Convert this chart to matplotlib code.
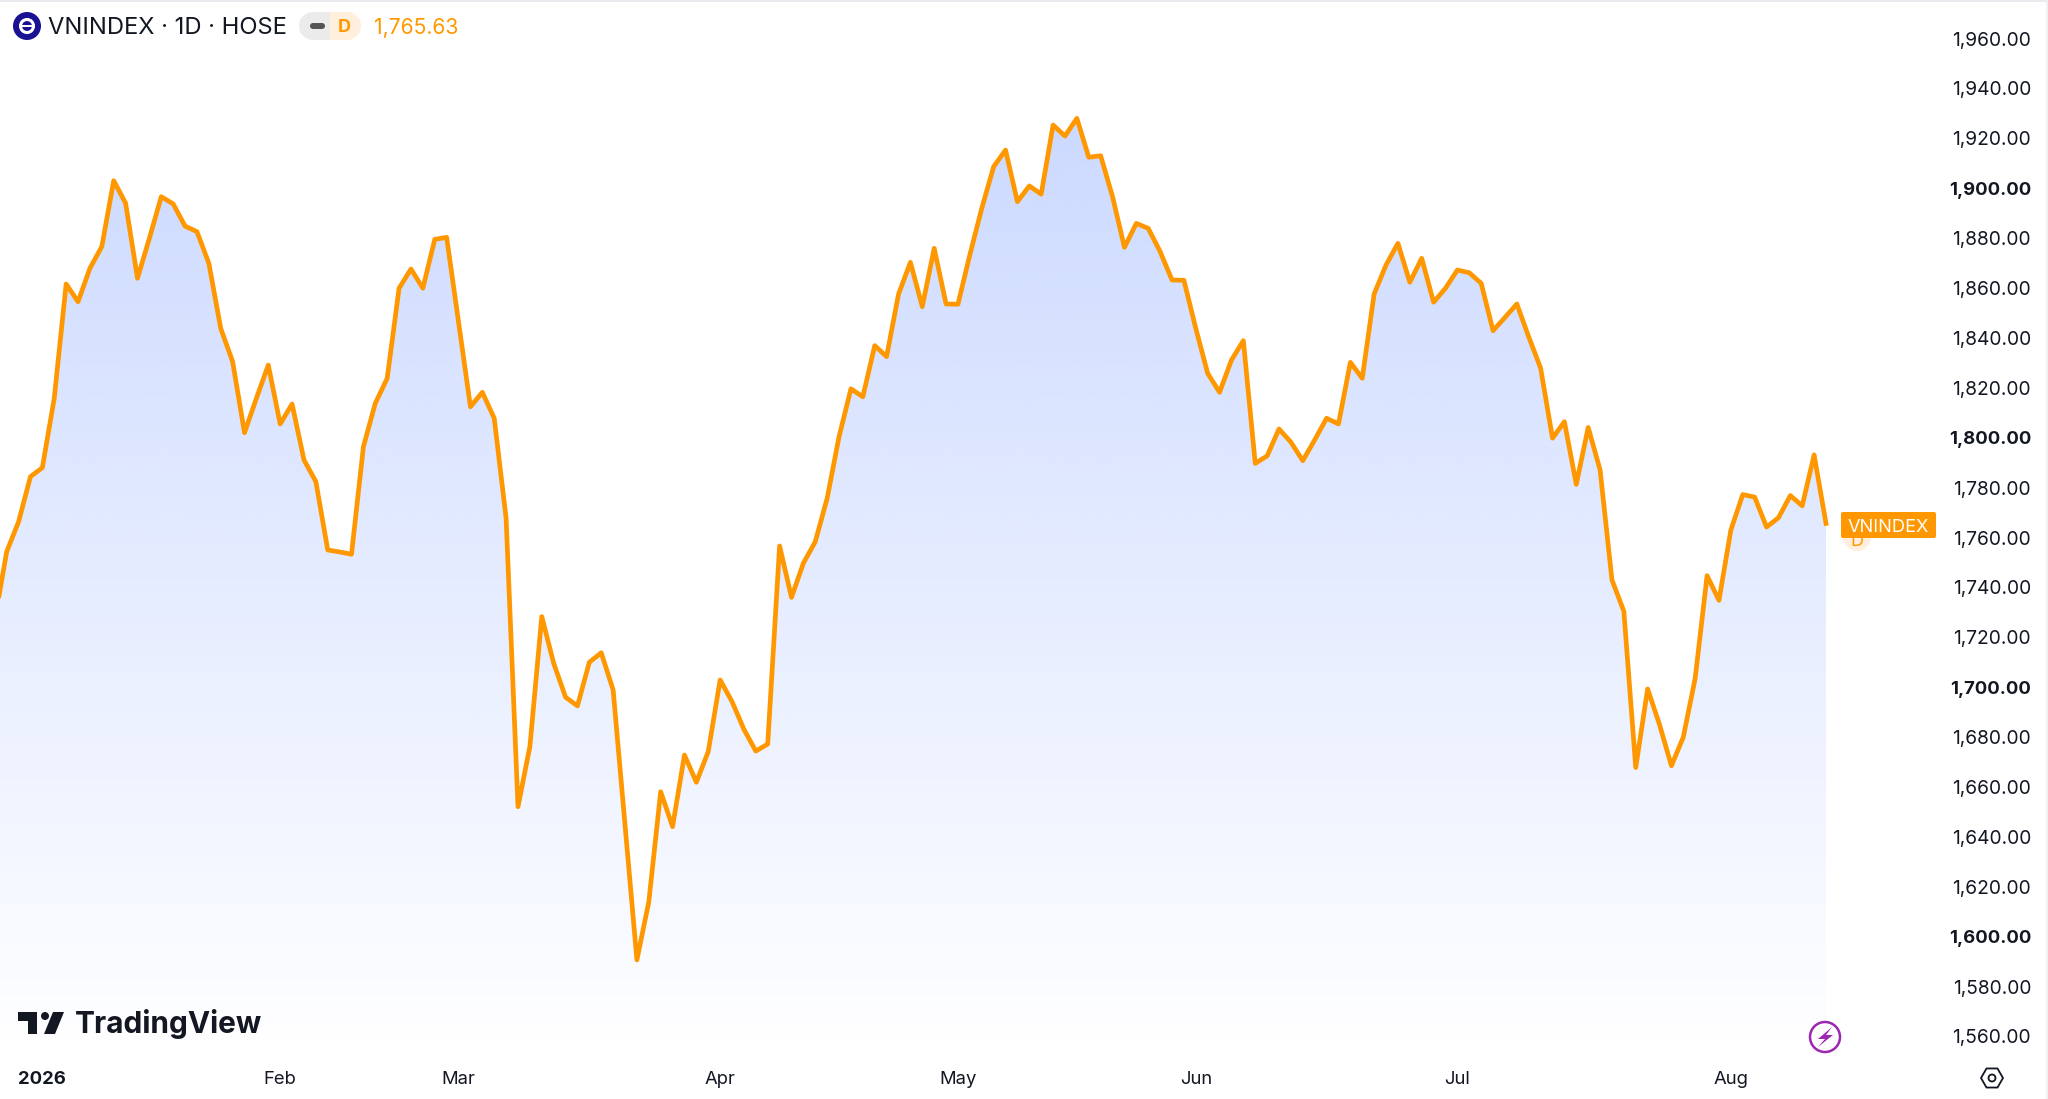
import matplotlib
matplotlib.use("Agg")
import matplotlib.pyplot as plt
from matplotlib.patches import Circle, Polygon, Rectangle, FancyBboxPatch
import numpy as np

plt.rcParams['font.family'] = ['Inter', 'DejaVu Sans']

# Daily closes
closes = [
    1727.0, 1754.3, 1766.3, 1784.4, 1788.0, 1815.8, 1861.6, 1854.5, 1867.9, 1876.6,
    1903.0, 1894.0, 1863.9, 1879.9, 1896.6, 1893.7, 1884.8, 1882.6, 1869.9, 1843.8,
    1830.5, 1802.0, 1815.8, 1829.1, 1805.5, 1813.5, 1791.1, 1782.4, 1755.0, 1754.2,
    1753.3, 1796.4, 1813.8, 1823.8, 1859.9, 1867.6, 1859.9, 1879.5, 1880.3, 1846.5,
    1812.4, 1818.2, 1807.8, 1767.7, 1652.1, 1676.2, 1728.3, 1709.6, 1696.0, 1692.5,
    1710.0, 1713.8, 1698.9, 1644.8, 1590.7, 1614.0, 1658.1, 1644.1, 1672.8, 1661.9,
    1674.2, 1702.9, 1694.2, 1683.1, 1674.4, 1677.2, 1756.6, 1736.0, 1749.7, 1758.3,
    1775.7, 1800.4, 1819.6, 1816.4, 1836.9, 1832.5, 1857.5, 1870.3, 1852.5, 1875.9,
    1853.6, 1853.5, 1873.3, 1891.9, 1908.6, 1915.3, 1894.6, 1900.9, 1897.6, 1925.3,
    1920.9, 1928.0, 1912.4, 1913.0, 1896.6, 1876.3, 1885.9, 1883.9, 1874.6, 1863.2,
    1863.1, 1843.8, 1825.8, 1818.2, 1831.1, 1838.9, 1789.7, 1792.7, 1803.5, 1798.2,
    1790.8, 1799.1, 1807.8, 1805.5, 1830.2, 1823.8, 1857.6, 1869.2, 1877.9, 1862.3,
    1871.9, 1854.3, 1859.9, 1867.2, 1866.1, 1861.9, 1842.9, 1848.2, 1853.6, 1840.4,
    1827.9, 1799.8, 1806.4, 1781.3, 1804.1, 1787.1, 1743.0, 1730.4, 1667.8, 1699.3,
    1685.0, 1668.5, 1680.0, 1703.6, 1744.7, 1734.8, 1763.0, 1777.2, 1776.2, 1764.2,
    1767.9, 1776.8, 1772.7, 1793.1, 1765.63,
]
month_labels = ['2026', 'Feb', 'Mar', 'Apr', 'May', 'Jun', 'Jul', 'Aug']
month_idx = [4, 24, 39, 61, 81, 101, 123, 146]
price_ticks = list(range(1560, 1961, 20))
bold_prices = [1600, 1700, 1800, 1900]

W, H = 2048, 1099
PANE_R, PANE_B = 1945, 1059
ORANGE = '#ff9800'
INK = '#131722'

x = np.arange(len(closes))
step = (1826 + 5.2) / (len(closes) - 1)

fig = plt.figure(figsize=(W / 100, H / 100), dpi=100, facecolor='white')
ax = fig.add_axes([0, 1 - PANE_B / H, PANE_R / W, PANE_B / H])
y_top = 1960 + 38.5 / 2.495
y_bot = 1960 - (PANE_B - 38.5) / 2.495
x_lim = (5.2 / step, (PANE_R + 5.2) / step)

# gradient under the line, clipped to the area below it
poly = ax.fill_between(x, closes, y_bot, color='none', linewidth=0)
grad = np.zeros((256, 1, 4))
grad[..., 0] = 41 / 255
grad[..., 1] = 98 / 255
grad[..., 2] = 1.0
grad[..., 3] = np.linspace(0.24, 0.0, 256)[:, None]
im = ax.imshow(grad, extent=[x[0], x[-1], y_bot, 1930], aspect='auto',
               origin='upper', zorder=1, interpolation='bilinear')
im.set_clip_path(poly.get_paths()[0], transform=ax.transData)

ax.plot(x, closes, color=ORANGE, lw=3.4, solid_joinstyle='round', zorder=3)

ax.set_xlim(*x_lim)
ax.set_ylim(y_bot, y_top)
for s in ax.spines.values():
    s.set_visible(False)

ax.yaxis.tick_right()
ax.set_yticks(price_ticks)
ax.set_yticklabels([f'{p:,.2f}' for p in price_ticks])
ax.tick_params(axis='y', length=0, pad=62, labelsize=13.8, labelcolor=INK)
for p, lab in zip(price_ticks, ax.get_yticklabels()):
    lab.set_ha('right')
    if p in bold_prices:
        lab.set_fontweight('bold')
        lab.set_fontsize(13.3)

ax.set_xticks(month_idx)
ax.set_xticklabels(month_labels)
ax.tick_params(axis='x', length=0, pad=8.5, labelsize=13.3, labelcolor=INK)
ax.get_xticklabels()[0].set_fontweight('bold')

# overlay in pixel coordinates for the chart furniture
ov = fig.add_axes([0, 0, 1, 1], facecolor='none')
ov.set_xlim(0, W)
ov.set_ylim(H, 0)
ov.axis('off')

ov.add_patch(Rectangle((0, 0), W, 2, color='#e9ebef', lw=0))
ov.add_patch(Rectangle((W - 2, 0), 2, H, color='#f0f1f4', lw=0))

# header
ov.add_patch(Circle((27, 26), 14, color='#1a1193', lw=0))
ov.add_patch(Circle((27, 26), 6.5, fc='none', ec='white', lw=2.2))
ov.add_patch(Rectangle((20, 25), 14, 1.6, color='white', lw=0))
ov.text(48, 26, 'VNINDEX · 1D · HOSE', fontsize=17.1, color=INK, va='center_baseline')
ov.add_patch(Rectangle((313, 12), 20, 28, color='#ebebeb', lw=0))
ov.add_patch(Circle((313, 26), 14, color='#ebebeb', lw=0))
ov.add_patch(Rectangle((330, 12), 18, 28, color='#ffefdc', lw=0))
ov.add_patch(Circle((347, 26), 14, color='#ffefdc', lw=0))
ov.add_patch(FancyBboxPatch((310, 23), 15, 6, boxstyle='round,pad=0,rounding_size=3',
                            fc='#555555', ec='none'))
ov.text(344.5, 26, 'D', fontsize=13, fontweight='bold', color=ORANGE, ha='center', va='center_baseline')
ov.text(374, 26, '1,765.63', fontsize=15.2, color=ORANGE, va='center_baseline')

# last value tag with the D badge behind it
ov.add_patch(Circle((1857, 537), 14, color='#ffefdc', lw=0))
ov.text(1857, 539, 'D', fontsize=13, color=ORANGE, ha='center', va='center_baseline')
ov.add_patch(FancyBboxPatch((1841, 512), 95, 26, boxstyle='round,pad=0,rounding_size=2',
                            fc=ORANGE, ec='none'))
ov.text(1888.5, 525, 'VNINDEX', fontsize=13.1, color='white', ha='center', va='center_baseline')

# TradingView mark
ov.add_patch(Polygon([(18, 1012), (37, 1012), (37, 1034), (28, 1034), (28, 1021), (18, 1021)],
                     color=INK, lw=0))
ov.add_patch(Circle((45, 1016), 4, color=INK, lw=0))
ov.add_patch(Polygon([(64, 1012), (55, 1034), (44, 1034), (53, 1012)], color=INK, lw=0))
ov.text(75, 1021, 'TradingView', fontsize=21.5, fontweight='bold', color=INK, va='center_baseline')

# bolt badge
ov.add_patch(Circle((1825, 1037), 15, fc='white', ec='#9c27b0', lw=1.8))
ov.add_patch(Polygon([(1832, 1027), (1818, 1039), (1825, 1039), (1818, 1047), (1833, 1035), (1826, 1035)],
                     color='#9c27b0', lw=0))

# scale settings hexagon
ang = np.deg2rad([0, 60, 120, 180, 240, 300])
ov.add_patch(Polygon(np.c_[1992 + 11 * np.cos(ang), 1078 + 11 * np.sin(ang)],
                     fc='none', ec=INK, lw=1.3))
ov.add_patch(Circle((1992, 1078), 3.5, fc='none', ec=INK, lw=1.3))

fig.savefig('out.png', dpi=100)
